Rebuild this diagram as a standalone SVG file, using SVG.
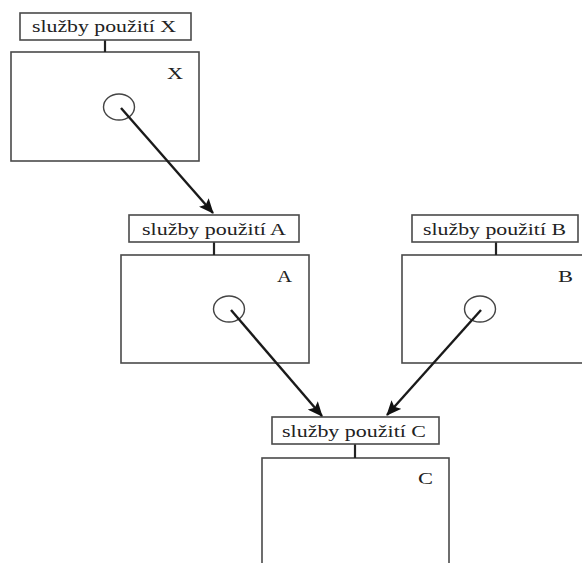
<svg xmlns="http://www.w3.org/2000/svg" width="582" height="563" viewBox="0 0 582 563">
  <style>
    .box { fill: #fff; stroke: #4a4a4a; stroke-width: 1.6; }
    .svc { fill: #fff; stroke: #4a4a4a; stroke-width: 1.6; }
    .stem { stroke: #222; stroke-width: 2.2; }
    .port { fill: none; stroke: #444; stroke-width: 1.4; }
    .txt { font-family: "Liberation Serif", "Times New Roman", serif; font-size: 17px; fill: #222; }
    .edge { stroke: #1a1a1a; stroke-width: 2.4; fill: none; marker-end: url(#head); }
  </style>
  <defs>
    <marker id="head" viewBox="0 0 15 13" refX="14" refY="6.5" markerWidth="15" markerHeight="13" markerUnits="userSpaceOnUse" orient="auto">
      <path d="M0,0 L15,6.5 L0,13 L3,6.5 z" fill="#111"/>
    </marker>
  </defs>

  <rect width="582" height="563" fill="#fff"/>

  <!-- component X -->
  <g id="node-x">
    <rect class="box" x="11" y="52" width="188" height="109"/>
    <line class="stem" x1="105" y1="40" x2="105" y2="52"/>
    <rect class="svc" x="20" y="13" width="171" height="27"/>
    <text class="txt" x="32" y="32" textLength="144" lengthAdjust="spacingAndGlyphs">služby použití X</text>
    <text class="txt" x="167" y="79" textLength="16" lengthAdjust="spacingAndGlyphs">X</text>
    <ellipse class="port" cx="119" cy="107" rx="15.5" ry="13"/>
  </g>

  <!-- component A -->
  <g id="node-a">
    <rect class="box" x="121" y="255" width="188" height="108"/>
    <line class="stem" x1="214" y1="242" x2="214" y2="255"/>
    <rect class="svc" x="129" y="215" width="170" height="27"/>
    <text class="txt" x="142" y="235" textLength="144" lengthAdjust="spacingAndGlyphs">služby použití A</text>
    <text class="txt" x="277" y="282" textLength="15" lengthAdjust="spacingAndGlyphs">A</text>
    <ellipse class="port" cx="229" cy="309" rx="15.5" ry="13"/>
  </g>

  <!-- component B -->
  <g id="node-b">
    <rect class="box" x="402" y="255" width="200" height="108"/>
    <line class="stem" x1="496" y1="242" x2="496" y2="255"/>
    <rect class="svc" x="412" y="215" width="166" height="27"/>
    <text class="txt" x="423" y="235" textLength="143" lengthAdjust="spacingAndGlyphs">služby použití B</text>
    <text class="txt" x="558" y="282" textLength="15" lengthAdjust="spacingAndGlyphs">B</text>
    <ellipse class="port" cx="480" cy="309" rx="15.5" ry="13"/>
  </g>

  <!-- component C -->
  <g id="node-c">
    <rect class="box" x="262" y="458" width="187" height="120"/>
    <line class="stem" x1="355" y1="444" x2="355" y2="458"/>
    <rect class="svc" x="272" y="417" width="167" height="27"/>
    <text class="txt" x="282" y="437" textLength="144" lengthAdjust="spacingAndGlyphs">služby použití C</text>
    <text class="txt" x="418" y="484" textLength="15" lengthAdjust="spacingAndGlyphs">C</text>
  </g>

  <!-- usage connectors -->
  <g id="connectors">
    <line class="edge" x1="121" y1="108" x2="213" y2="213"/>
    <line class="edge" x1="231" y1="310" x2="322" y2="416"/>
    <line class="edge" x1="481" y1="310" x2="387" y2="415"/>
  </g>
</svg>
